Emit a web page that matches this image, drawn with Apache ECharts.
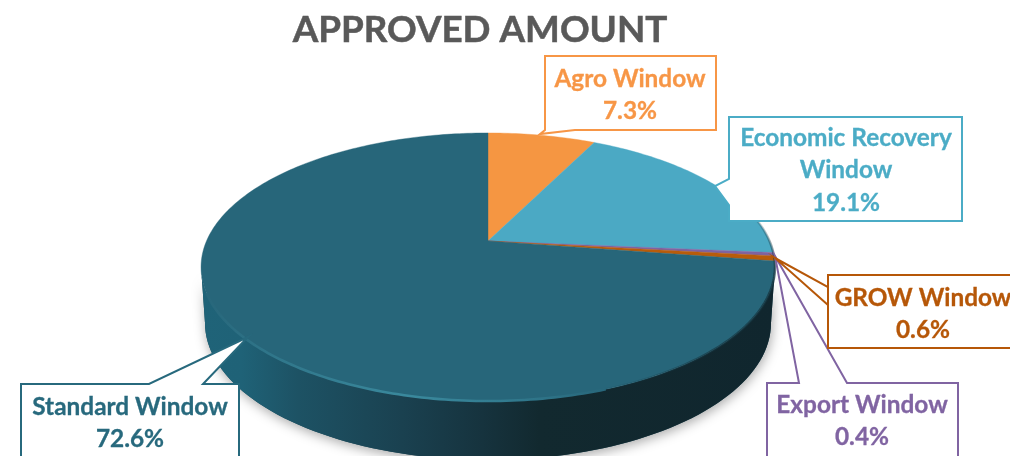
<!DOCTYPE html>
<html>
<head>
<meta charset="utf-8">
<style>html,body{margin:0;padding:0;background:#fff;overflow:hidden}#c{width:1010px;height:456px}</style>
<script src="https://cdn.jsdelivr.net/npm/echarts@6/dist/echarts.min.js"></script>
</head>
<body>
<div id="c"></div>
<script>
const chartTitle = 'APPROVED AMOUNT';
const categories = ['Agro Window', 'Economic Recovery Window', 'Export Window', 'GROW Window', 'Standard Window'];
const shares = [7.3, 19.1, 0.4, 0.6, 72.6];
const labelLines = [['Agro Window'], ['Economic Recovery', 'Window'], ['Export Window'], ['GROW Window'], ['Standard Window']];
const sliceColors = ['#F59642', '#4BA9C4', '#7F63A1', '#B85C0A', '#27667A'];
const textColors = ['#F79646', '#4BACC6', '#8064A2', '#B65708', '#27697D'];

// Callout geometry (layout only, not data)
const callouts = [
  {box:[545,56,716,130], cx:630, y:79, ptr:[[575,130],[540,134],[545,130]]},
  {box:[729,117,962,221], cx:846, y:138, ptr:[[729,205],[715,186],[729,179]]},
  {box:[767,383,958,480], cx:862, y:405, ptr:[[799,383],[775,256],[847,383]], side:'top'},
  {box:[828,275,1030,348], cx:923, y:298, ptr:[[828,287],[775,258],[828,305]]},
  {box:[21,384,239,480], cx:130, y:407, ptr:[[149,384],[248,337],[203,384]], side:'top'}
];

// Perspective projection of the pie's round top face
const apex = {x:488, y:241}, A = 281.5, B = 129, K = 0.194;
function proj(deg){
  const r = deg*Math.PI/180, s = Math.sin(r), c = Math.cos(r), w = 1 + K*c;
  return [apex.x + A*s/w, apex.y - B*c/w];
}
function rim(from, to){
  const pts = [], n = Math.max(2, Math.ceil(Math.abs(to-from)));
  for(let i=0;i<=n;i++) pts.push(proj(from+(to-from)*i/n));
  return pts;
}
const lower = {cx:488, cy:323, rx:283, ry:137};
function lowerArc(a0, a1){
  const pts = [];
  for(let a=a0; a1>a0 ? a<=a1 : a>=a1; a += a1>a0 ? 2 : -2){
    const r=a*Math.PI/180;
    pts.push([lower.cx+lower.rx*Math.cos(r), lower.cy+lower.ry*Math.sin(r)]);
  }
  return pts;
}
const total = shares.reduce((a,b)=>a+b,0);
const starts = shares.map((_,i)=>shares.slice(0,i).reduce((a,b)=>a+b,0));
const grad = (stops)=>new echarts.graphic.LinearGradient(0,0,1,0,stops.map(([offset,color])=>({offset,color})));

const option = {
  animation:false,
  backgroundColor:'#fff',
  title:{text:chartTitle,left:475,top:7,textAlign:'center',
    textStyle:{color:'#595959',fontFamily:'Lato',fontWeight:700,fontSize:36.8,textBorderColor:'#595959',textBorderWidth:0.5}},
  series:[
    { // body of the pie: shadow and side wall
      type:'custom',coordinateSystem:'none',silent:true,z:1,data:[0],
      renderItem(){
        const front = rim(258.8,101.2);
        return {type:'group',children:[
          {type:'polygon',shape:{points:front.concat(lowerArc(0,180))},style:{fill:'#1b4a5a',shadowBlur:12,shadowColor:'rgba(0,0,0,0.34)',shadowOffsetX:1,shadowOffsetY:3}},
          {type:'polygon',shape:{points:front.concat(lowerArc(0,180))},style:{
            fill:grad([[0,'#1F6378'],[0.07,'#1F6277'],[0.17,'#1D5264'],[0.35,'#1A4150'],[0.49,'#16333E'],[0.59,'#12292F'],[1,'#10262E']])}}
        ]};
      }
    },
    { // slices of the top face
      type:'custom',coordinateSystem:'none',silent:true,z:2,
      data:categories.map((n,i)=>({name:n,value:[i,shares[i]]})),
      renderItem(params,api){
        const i = api.value(0), a0 = starts[i]/total*360, a1 = a0 + api.value(1)/total*360;
        return {type:'polygon',shape:{points:[[apex.x,apex.y]].concat(rim(a0,a1))},
          style:{fill:sliceColors[i],stroke:sliceColors[i],lineWidth:0.4}};
      }
    },
    { // bevel along the rim
      type:'custom',coordinateSystem:'none',silent:true,z:3,data:[0],
      renderItem(){
        return {type:'group',children:[
          {type:'polyline',shape:{points:rim(248,160)},style:{fill:'none',lineWidth:2.6,
            stroke:grad([[0,'#27667A'],[0.15,'#2F7589'],[0.5,'#3A899D'],[0.72,'#337D91'],[1,'#27667A']])}},
          {type:'polyline',shape:{points:rim(160,70)},style:{fill:'none',lineWidth:2.5,
            stroke:new echarts.graphic.LinearGradient(0,0,0,1,[
              {offset:0,color:'rgba(20,50,60,0)'},{offset:0.45,color:'rgba(20,50,60,0.75)'},{offset:0.8,color:'rgba(20,50,60,0.6)'},{offset:1,color:'rgba(20,50,60,0)'}])}}
        ]};
      }
    },
    { // callouts
      type:'custom',coordinateSystem:'none',silent:true,z:4,
      data:categories.map((n,i)=>({name:n,value:[i,shares[i]]})),
      renderItem(params,api){
        const i = api.value(0), c = callouts[i], [l,t,r,b] = c.box, col = textColors[i];
        let outline;
        if(c.side==='top') outline = [[l,t]].concat(c.ptr,[[r,t],[r,b],[l,b]]);
        else if(i===0) outline = [[l,t],[r,t],[r,b]].concat(c.ptr,[[l,t]]);
        else outline = [[l,t],[r,t],[r,b],[l,b]].concat(c.ptr);
        const txt = labelLines[i].concat([api.value(1).toFixed(1)+'%']);
        return {type:'group',children:[
          {type:'polygon',shape:{points:outline},style:{fill:'#fff',stroke:col,lineWidth:2}},
          ...txt.map((t2,k)=>({type:'text',style:{x:c.cx,y:c.y+k*32.4,text:t2,fill:col,stroke:col,lineWidth:0.3,
            font:'700 24.4px Lato',textAlign:'center',textVerticalAlign:'middle',verticalAlign:'middle'}}))
        ]};
      }
    }
  ]
};
echarts.init(document.getElementById('c'),null,{renderer:'canvas'}).setOption(option);
</script>
</body>
</html>
